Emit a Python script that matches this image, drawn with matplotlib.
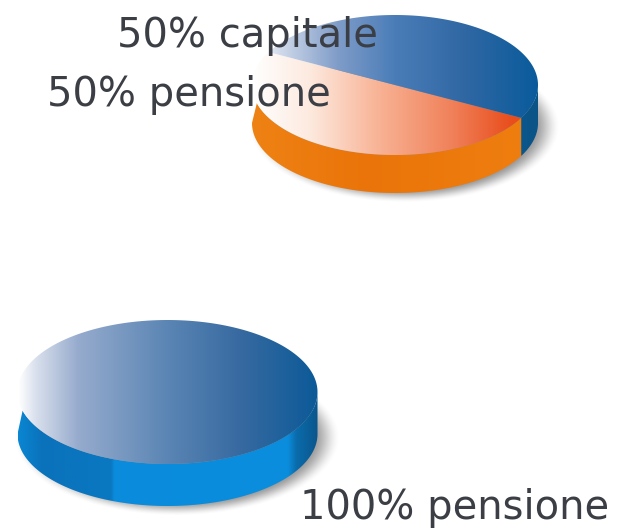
"""Two 3D-style pie discs showing the capital / pension split."""

import numpy as np
import matplotlib
matplotlib.use('Agg')
import matplotlib.pyplot as plt
from matplotlib.colors import LinearSegmentedColormap
from matplotlib.patches import Polygon

# Shares per disc, in drawing order (clockwise from the start angle)
split_labels = ["50% pensione", "50% capitale"]
split_shares = [50, 50]
full_labels = ["100% pensione"]
full_shares = [100]

W, H = 617, 531

BLUE_TOP = LinearSegmentedColormap.from_list(
    "blue_top", [(0.0, "#ffffff"), (0.06, "#d8dfec"), (0.2, "#96abcd"),
                 (0.5, "#5a85b4"), (0.75, "#3669a0"), (1.0, "#0b5a98")])
SPLIT_BLUE = LinearSegmentedColormap.from_list(
    "split_blue", [(0.0, "#ffffff"), (0.1, "#cfd9ea"), (0.3, "#7f9cc8"),
                   (0.5, "#4a7db8"), (0.75, "#2f67a3"), (1.0, "#0a5b9c")])
ORANGE_TOP = LinearSegmentedColormap.from_list(
    "orange_top", [(0.0, "#ffffff"), (0.2, "#fdeadf"), (0.45, "#f8b193"),
                   (0.7, "#f0815a"), (0.9, "#e9501f"), (1.0, "#e6450f")])
ORANGE_RIM = LinearSegmentedColormap.from_list(
    "orange_rim", [(0.0, "#ef8214"), (0.4, "#ea7409"), (1.0, "#ef7f10")])
BLUE_EDGE = LinearSegmentedColormap.from_list(
    "blue_edge", [(0.0, "#0b6fa6"), (1.0, "#0a5488")])
FULL_RIM = LinearSegmentedColormap.from_list(
    "full_rim", [(0.0, "#0a86d2"), (0.08, "#0a72bb"), (0.31, "#0a78c2"),
                 (0.32, "#0a8bdb"), (0.9, "#0b8ede"), (0.93, "#0a6cab"),
                 (1.0, "#0a568c")])


def arc(cx, cy, rx, ry, start, stop, n=200):
    t = np.radians(np.linspace(start, stop, n))
    return np.column_stack([cx + rx * np.cos(t), cy + ry * np.sin(t)])


def gradient_fill(ax, points, cmap, x0, x1, zorder):
    """Fill a polygon with a left-to-right gradient spanning x0..x1."""
    ramp = np.linspace(0, 1, 256).reshape(1, -1)
    im = ax.imshow(ramp, cmap=cmap, extent=(x0, x1, H, 0), aspect="auto",
                   vmin=0, vmax=1, zorder=zorder, interpolation="bilinear")
    clip = Polygon(points, closed=True, transform=ax.transData)
    im.set_clip_path(clip)


def soft_shadow(ax, cx, cy, rx, ry, zorder=1):
    yy, xx = np.mgrid[0:H, 0:W]
    r = np.hypot((xx - cx) / rx, (yy - cy) / ry)
    edge = np.clip((1.09 - r) / 0.2, 0, 1)
    rgba = np.zeros((H, W, 4))
    rgba[..., :3] = 0.25
    rgba[..., 3] = 0.55 * edge * edge * (3 - 2 * edge)
    ax.imshow(rgba, extent=(0, W, H, 0), aspect="auto", zorder=zorder)


def draw_disc(ax, cx, cy, rx, ry, depth, shares, start, tops, rims):
    """Draw one disc: the rim first, then one top wedge per share."""
    x0, x1 = cx - rx, cx + rx
    soft_shadow(ax, cx + 9, cy + depth + 3, rx, ry)

    angles = start + np.cumsum([0] + list(shares)) / sum(shares) * 360
    for a, b, top, rim in zip(angles[:-1], angles[1:], tops, rims):
        # front wall is only visible for 0..180 degrees; wedges that wrap
        # past 360 also cover the start of the wall
        for lo, hi in ((max(a, 0), min(b, 180)),
                       (max(a - 360, 0), min(b - 360, 180))):
            if hi > lo:
                # wall tapers off towards the left end of the disc
                upper = arc(cx, cy, rx, ry, lo, min(hi, 165))
                lower = arc(cx, cy + depth, rx, ry, hi, lo)
                gradient_fill(ax, np.vstack([upper, lower]), rim, x0, x1, 2)

        wedge = arc(cx, cy, rx, ry, a, b)
        if b - a < 360:
            wedge = np.vstack([[cx, cy], wedge])
        gradient_fill(ax, wedge, top, x0, x1, 3)


fig = plt.figure(figsize=(W / 100, H / 100), dpi=100)
ax = fig.add_axes([0, 0, 1, 1])

draw_disc(ax, 395, 85, 143, 70, 38, split_shares, 28,
          [ORANGE_TOP, SPLIT_BLUE], [ORANGE_RIM, BLUE_EDGE])
draw_disc(ax, 167.5, 392, 150, 72, 42, full_shares, 0,
          [BLUE_TOP], [FULL_RIM])

ax.set_xlim(0, W)
ax.set_ylim(H, 0)
ax.axis("off")

text_style = dict(fontsize=28.8, color="#3b3f45", va="center", ha="left",
                  family="DejaVu Sans", zorder=5)
ax.text(117, 36, split_labels[1], **text_style)
ax.text(47, 95, split_labels[0], **text_style)
ax.text(300, 508, full_labels[0], **text_style)

fig.savefig("out.png", dpi=100, facecolor="white")
plt.close(fig)
